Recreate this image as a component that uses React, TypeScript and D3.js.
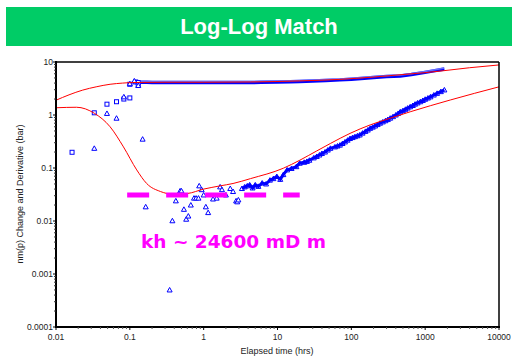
import React from "react";
import * as d3 from "d3";

// early pressure change points (squares)
const sqT = [0.0165, 0.033, 0.049, 0.066, 0.083, 0.1, 0.1, 0.12, 0.13, 0.13];
const sqV = [0.198, 1.1, 1.6, 1.78, 2.0, 2.1, 3.8, 4.2, 4.1, 3.7];

// pressure change band
const bandPT = [0.14, 0.17, 0.2, 0.25, 0.3, 0.4, 0.5, 0.7, 1, 1.5, 2, 3, 4.3, 6, 10, 15, 20, 30, 45, 70, 100, 150, 200, 300, 460, 650, 950, 1300, 1820];
const bandPV = [4.15, 4.15, 4.1, 4.1, 4.1, 4.1, 4.1, 4.1, 4.1, 4.1, 4.1, 4.1, 4.1, 4.15, 4.2, 4.25, 4.3, 4.4, 4.5, 4.6, 4.75, 4.95, 5.1, 5.3, 5.45, 5.8, 6.3, 6.8, 7.4];

// derivative points (triangles)
const triT = [0.033, 0.049, 0.066, 0.083, 0.1, 0.115, 0.13, 0.149, 0.164, 0.346, 0.377, 0.42, 0.48, 0.5, 0.54, 0.58, 0.62, 0.67, 0.74, 0.79, 0.85, 0.87, 0.94, 1.0, 1.07, 1.15, 1.34, 1.5, 1.67, 1.77, 2.0, 2.29, 2.5, 2.75, 2.85, 2.95];
const triV = [0.235, 1.07, 0.87, 2.2, 3.9, 4.4, 3.6, 0.35, 0.0185, 0.0005, 0.0101, 0.024, 0.037, 0.037, 0.0166, 0.0108, 0.0124, 0.02, 0.027, 0.027, 0.027, 0.046, 0.039, 0.031, 0.0185, 0.0144, 0.026, 0.027, 0.044, 0.039, 0.031, 0.041, 0.036, 0.024, 0.023, 0.025];

// derivative band
const bandDT = [3.3, 3.6, 3.9, 4.2, 4.6, 5.0, 5.5, 6.2, 7.0, 7.9, 8.8, 9.8, 10.9, 12, 13.5, 15.5, 18, 20, 23, 25, 27, 31, 34, 37, 40, 44, 48, 52, 60, 65, 70, 76, 82, 89, 96, 104, 112, 121, 130, 142, 155, 167, 180, 195, 210, 227, 245, 267, 290, 312, 336, 367, 400, 430, 460, 500, 540, 580, 627, 680, 730, 790, 860, 930, 1000, 1090, 1180, 1310, 1450, 1630, 1820];
const bandDV = [0.041, 0.044, 0.046, 0.048, 0.042, 0.048, 0.045, 0.052, 0.05, 0.059, 0.063, 0.069, 0.061, 0.075, 0.092, 0.098, 0.106, 0.123, 0.128, 0.133, 0.14, 0.155, 0.165, 0.176, 0.188, 0.2, 0.218, 0.235, 0.25, 0.26, 0.27, 0.29, 0.31, 0.335, 0.36, 0.375, 0.39, 0.405, 0.42, 0.455, 0.49, 0.52, 0.56, 0.59, 0.62, 0.66, 0.7, 0.74, 0.78, 0.82, 0.87, 0.93, 1.0, 1.07, 1.15, 1.21, 1.28, 1.35, 1.43, 1.51, 1.6, 1.69, 1.78, 1.88, 1.98, 2.09, 2.2, 2.38, 2.56, 2.76, 2.97];

// model curves
const modelPT = [0.01, 0.015, 0.023, 0.035, 0.054, 0.08, 0.11, 0.3, 1, 4.3, 20, 70, 200, 500, 1000, 1780, 4000, 10000];
const modelPV = [1.9, 2.4, 2.95, 3.4, 3.8, 4.0, 4.1, 4.15, 4.15, 4.2, 4.4, 4.7, 5.2, 5.8, 6.3, 6.85, 7.8, 8.8];
const modelDT = [0.01, 0.019, 0.033, 0.054, 0.082, 0.124, 0.169, 0.26, 0.39, 0.6, 1, 1.67, 2.5, 4.3, 12, 20, 34, 52, 96, 180, 336, 627, 2190, 10000];
const modelDV = [1.37, 1.4, 1.08, 0.6, 0.25, 0.092, 0.051, 0.036, 0.032, 0.033, 0.04, 0.046, 0.051, 0.063, 0.099, 0.14, 0.21, 0.29, 0.45, 0.65, 0.87, 1.15, 1.92, 3.4];

// radial flow stabilisation
const khLevel = 0.031;
const khFrom = 0.092;
const khTo = 20;

const xTicks = [0.01, 0.1, 1, 10, 100, 1000, 10000];
const xTickLabels = ["0.01", "0.1", "1", "10", "100", "1000", "10000"];
const yTicks = [0.0001, 0.001, 0.01, 0.1, 1, 10];
const yTickLabels = ["0.0001", "0.001", "0.01", "0.1", "1", "10"];

const W = 512;
const H = 361;
const left = 56, right = 499, top = 62, bottom = 327;

export default function App() {
  const x = d3.scaleLog().domain([0.01, 10000]).range([left, right]);
  const y = d3.scaleLog().domain([0.0001, 10]).range([bottom, top]);

  const lineOf = (ts: number[], vs: number[], curve: any) =>
    d3.line<number>().x((d, i) => x(ts[i])).y((d, i) => y(vs[i])).curve(curve)(vs) || "";

  const tri = (cx: number, cy: number) =>
    `M${cx},${cy - 2.5}L${cx + 2.5},${cy + 2}L${cx - 2.5},${cy + 2}Z`;

  const minorX = x.ticks().filter((t) => !xTicks.some((m) => Math.abs(m - t) / m < 1e-6));
  const minorY = y.ticks().filter((t) => !yTicks.some((m) => Math.abs(m - t) / m < 1e-6));
  const font = "'Liberation Sans', Arial, sans-serif";

  return (
    <div style={{ position: "absolute", left: 0, top: 0 }}>
      <svg width={W} height={H} style={{ display: "block", background: "#fff" }}>
        <rect x={6} y={7} width={506} height={39} fill="#00CC66" />
        <text x={259} y={34} textAnchor="middle" fill="#fff" fontFamily={font} fontWeight="bold" fontSize={22}>
          Log-Log Match
        </text>

        <defs>
          <clipPath id="plot">
            <rect x={left} y={top} width={right - left} height={bottom - top} />
          </clipPath>
        </defs>

        <g clipPath="url(#plot)">
          {/* derivative band */}
          <path d={lineOf(bandDT, bandDV, d3.curveLinear)} fill="none" stroke="#0000ff" strokeWidth={3} />
          {bandDT.map((t, i) => (
            <path key={"bd" + i} d={tri(x(t), y(bandDV[i]))} fill="none" stroke="#0000ff" strokeWidth={1} />
          ))}
          {/* pressure band */}
          <path d={lineOf(bandPT, bandPV, d3.curveLinear)} fill="none" stroke="#0000ff" strokeWidth={3.5} />
          <path d={lineOf(bandPT, bandPV.map((v) => v * 1.04), d3.curveLinear)} fill="none" stroke="#8f9bff" strokeWidth={1.5} opacity={0.7} />
          {/* scatter */}
          {sqT.map((t, i) => (
            <rect key={"sq" + i} x={x(t) - 2} y={y(sqV[i]) - 2} width={4} height={4} fill="#fff" stroke="#0000ff" strokeWidth={1} />
          ))}
          {triT.map((t, i) => (
            <path key={"tr" + i} d={tri(x(t), y(triV[i]))} fill="#fff" stroke="#0000ff" strokeWidth={1} />
          ))}
          {/* model */}
          <path d={lineOf(modelPT, modelPV, d3.curveMonotoneX)} fill="none" stroke="#ff0000" strokeWidth={1} />
          <path d={lineOf(modelDT, modelDV, d3.curveMonotoneX)} fill="none" stroke="#ff0000" strokeWidth={1} />
          {/* kh line */}
          <line x1={x(khFrom)} x2={x(khTo)} y1={y(khLevel)} y2={y(khLevel)} stroke="#ff00ff" strokeWidth={5} strokeDasharray="22,17" />
        </g>

        <text x={141} y={248} fill="#ff00ff" fontFamily="'DejaVu Sans', Verdana, sans-serif" fontWeight="bold" fontSize={18.5}>
          kh ~ 24600 mD m
        </text>

        {/* frame */}
        <line x1={left} x2={right} y1={top} y2={top} stroke="#000" strokeWidth={1.5} />
        <line x1={right} x2={right} y1={top} y2={bottom} stroke="#000" strokeWidth={1.5} />
        <line x1={left} x2={left} y1={top - 1} y2={bottom + 1} stroke="#000" strokeWidth={2} />
        <line x1={left - 1} x2={right + 1} y1={bottom} y2={bottom} stroke="#000" strokeWidth={2} />

        {/* x ticks */}
        {xTicks.map((t, i) => (
          <g key={"xt" + i}>
            <line x1={x(t)} x2={x(t)} y1={bottom} y2={bottom + 3} stroke="#000" />
            <text x={x(t)} y={340} textAnchor="middle" fontFamily={font} fontSize={8.5} fill="#222">
              {xTickLabels[i]}
            </text>
          </g>
        ))}
        {minorX.map((t, i) => (
          <line key={"xm" + i} x1={x(t)} x2={x(t)} y1={bottom} y2={bottom + 2} stroke="#555" />
        ))}

        {/* y ticks */}
        {yTicks.map((t, i) => (
          <g key={"yt" + i}>
            <line x1={left - 3} x2={left} y1={y(t)} y2={y(t)} stroke="#000" />
            <text x={53} y={y(t) + 3} textAnchor="end" fontFamily={font} fontSize={8.5} fill="#222">
              {yTickLabels[i]}
            </text>
          </g>
        ))}
        {minorY.map((t, i) => (
          <line key={"ym" + i} x1={left - 2} x2={left} y1={y(t)} y2={y(t)} stroke="#333" />
        ))}

        <text x={277} y={354} textAnchor="middle" fontFamily={font} fontSize={9} fill="#222">
          Elapsed time (hrs)
        </text>
        <text transform="translate(23,194) rotate(-90)" textAnchor="middle" fontFamily={font} fontSize={9} fill="#222">
          nm(p) Change and Derivative (bar)
        </text>
      </svg>
    </div>
  );
}
